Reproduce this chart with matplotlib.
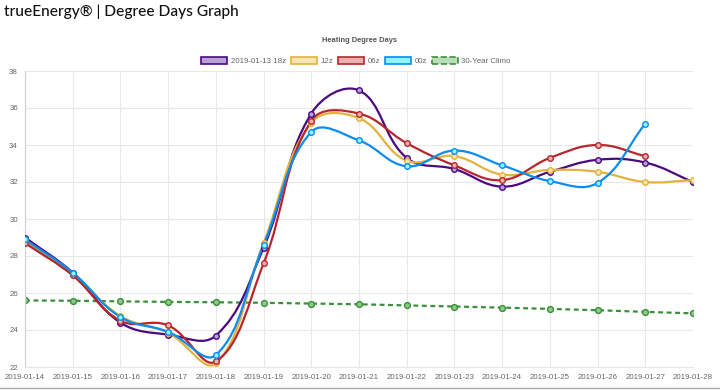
import matplotlib
matplotlib.use("Agg")
import matplotlib.pyplot as plt
import numpy as np
from matplotlib.path import Path
from matplotlib.patches import PathPatch, Patch

dates = ["2019-01-14", "2019-01-15", "2019-01-16", "2019-01-17", "2019-01-18",
         "2019-01-19", "2019-01-20", "2019-01-21", "2019-01-22", "2019-01-23",
         "2019-01-24", "2019-01-25", "2019-01-26", "2019-01-27", "2019-01-28"]

run_18z = [29.0, 27.1, 24.4, 23.75, 23.7, 28.45, 35.7, 36.95, 33.3, 32.7, 31.75, 32.55, 33.2, 33.05, 32.0]
run_12z = [28.8, 27.05, 24.75, 23.85, 22.2, 28.7, 35.2, 35.45, 33.15, 33.4, 32.4, 32.65, 32.55, 32.0, 32.1]
run_06z = [28.7, 26.95, 24.5, 24.25, 22.3, 27.6, 35.3, 35.7, 34.1, 32.9, 32.1, 33.3, 34.0, 33.4]
run_00z = [28.9, 27.1, 24.7, 23.9, 22.65, 28.6, 34.7, 34.25, 32.85, 33.7, 32.9, 32.05, 31.95, 35.15]
climo = [25.6, 25.58, 25.55, 25.52, 25.5, 25.47, 25.43, 25.39, 25.33, 25.27, 25.21, 25.14, 25.07, 24.98, 24.9]

series = [
    ("2019-01-13 18z", run_18z, "#4b0a7d", "#b9a1d6"),
    ("12z", run_12z, "#e3b23c", "#f7e6b5"),
    ("06z", run_06z, "#b8262c", "#eab1b1"),
    ("00z", run_00z, "#0a8cf0", "#8ff5ff"),
]

# pixel size of one data unit, used so the spline tension behaves like Chart.js
X_PX, Y_PX = 47.7, 18.5


def spline_path(xs, ys, tension=0.4):
    pts = np.column_stack([np.asarray(xs, float) * X_PX, np.asarray(ys, float) * Y_PX])
    n = len(pts)
    verts = [pts[0]]
    codes = [Path.MOVETO]
    cps = []
    for i in range(n):
        prev = pts[max(i - 1, 0)]
        cur = pts[i]
        nxt = pts[min(i + 1, n - 1)]
        d01 = np.hypot(*(cur - prev))
        d12 = np.hypot(*(nxt - cur))
        tot = d01 + d12
        s01 = d01 / tot if tot else 0
        s12 = d12 / tot if tot else 0
        cps.append((cur - tension * s01 * (nxt - prev), cur + tension * s12 * (nxt - prev)))
    for i in range(1, n):
        verts += [cps[i - 1][1], cps[i][0], pts[i]]
        codes += [Path.CURVE4] * 3
    verts = np.array(verts) / [X_PX, Y_PX]
    return Path(verts, codes)


plt.rcParams["font.family"] = ["Liberation Sans", "DejaVu Sans"]

fig = plt.figure(figsize=(7.2, 3.9), dpi=100)
ax = fig.add_axes([25 / 720, 1 - 367 / 390, 668 / 720, 296 / 390])

x = np.arange(len(dates))
for label, vals, col, fill in series:
    xs = x[:len(vals)]
    ax.add_patch(PathPatch(spline_path(xs, vals), fill=False, edgecolor=col, lw=1.6, zorder=3))
    ax.plot(xs, vals, ls="none", marker="o", ms=4, mfc=fill, mec=col, mew=1.0, zorder=4)

ax.plot(x, climo, color="#3a8f3a", ls=(0, (2.2, 1.6)), lw=1.6, marker="o", ms=4.2,
        mfc="#8cc98c", mec="#3a8f3a", mew=1.0, zorder=2)

ax.set_xlim(0, len(dates) - 1)
ax.set_ylim(22, 38)
ax.set_xticks(x)
ax.set_xticklabels(dates)
ax.set_yticks(np.arange(22, 39, 2))
ax.tick_params(axis="both", length=0, labelsize=5.7, labelcolor="#666666", pad=5)
ax.grid(True, color="#e8e8e8", lw=0.8)
ax.set_axisbelow(True)
for side in ["top", "right"]:
    ax.spines[side].set_visible(False)
ax.spines["left"].set_color("#d0d0d0")
ax.spines["bottom"].set_color("#e8e8e8")

fig.text(4 / 720, 1 - 12 / 390, "trueEnergy\u00ae | Degree Days Graph", fontsize=11.2,
         family="Lato", fontweight="medium", color="#111111", va="center", ha="left")
fig.text(360 / 720, 1 - 41 / 390, "Heating Degree Days", fontsize=5.4, color="#555555",
         fontweight="bold", ha="center", va="center")

handles = [Patch(facecolor=fill, edgecolor=col, lw=1.2) for _, _, col, fill in series]
handles.append(Patch(facecolor="#b9ddb9", edgecolor="#3a8f3a", lw=1.2, ls="--"))
labels = [s[0] for s in series] + ["30-Year Climo"]
fig.legend(handles, labels, loc="center", bbox_to_anchor=(356 / 720, 1 - 61 / 390), ncol=5,
           frameon=False, fontsize=5.7, handlelength=3.3, handleheight=0.9,
           columnspacing=0.65, handletextpad=0.4, labelcolor="#666666")

fig.add_artist(plt.Line2D([0, 1], [1 - 388 / 390] * 2, color="#aaaaaa", lw=1.0,
                          transform=fig.transFigure))

fig.savefig("out.png", dpi=100)
